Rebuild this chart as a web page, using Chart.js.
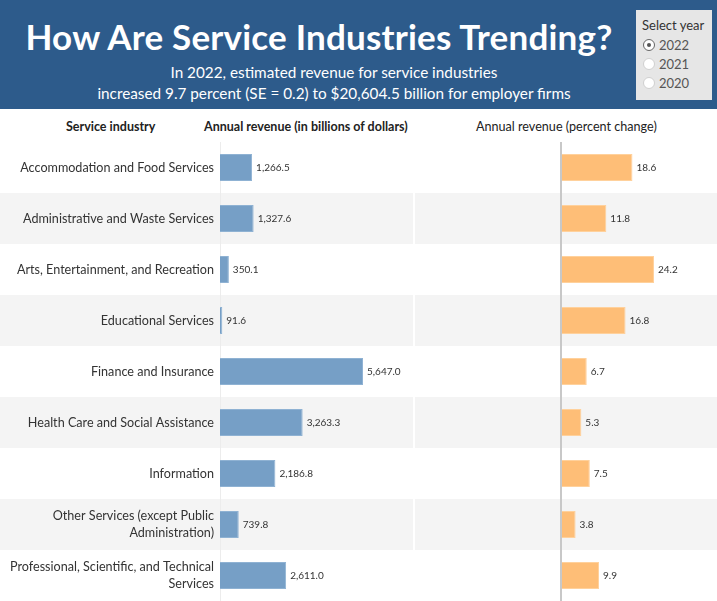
<!DOCTYPE html>
<html>
<head>
<meta charset="utf-8">
<script src="https://cdn.jsdelivr.net/npm/chart.js@4"></script>
<style>
  body { margin: 0; width: 717px; height: 601px; overflow: hidden; background: #fff; font-family: Lato, "Open Sans", sans-serif; position: relative; }
  #header { position: absolute; left: 0; top: 0; width: 717px; height: 109px; background: #2d5b8b; color: #fff; }
  #title { position: absolute; left: 0; width: 638px; top: 15px; text-align: center; font-weight: bold; font-size: 35px; letter-spacing: 0.2px; }
  #subtitle { position: absolute; left: 0; width: 668px; top: 62px; text-align: center; font-size: 15.3px; line-height: 21px; }
  #picker { position: absolute; left: 636px; top: 10px; width: 76px; height: 90px; background: #e6e6e6; color: #333; font-size: 13px; }
  #picker .lbl { position: absolute; left: 6px; top: 7px; }
  #picker .opt { position: absolute; left: 7px; color: #555; }
  #picker .dot { display: inline-block; width: 10px; height: 10px; border-radius: 50%; background: #fff; border: 1px solid #d0d0d0; vertical-align: -1px; margin-right: 4px; position: relative; }
  #picker .dot.on { border-color: #666; }
  #picker .dot.on::after { content: ""; position: absolute; left: 3px; top: 3px; width: 4px; height: 4px; border-radius: 50%; background: #555; }
  .colhead { position: absolute; top: 119px; font-size: 12.5px; color: #222; white-space: nowrap; }
  #leftWrap { position: absolute; left: 0; top: 142px; width: 413px; height: 459px; }
  #rightWrap { position: absolute; left: 415px; top: 142px; width: 302px; height: 459px; }
</style>
</head>
<body>
<div id="header">
  <div id="title">How Are Service Industries Trending?</div>
  <div id="subtitle">In 2022, estimated revenue for service industries<br>increased 9.7 percent (SE = 0.2) to $20,604.5 billion for employer firms</div>
  <div id="picker">
    <div class="lbl">Select year</div>
    <div class="opt" style="top:27px"><span class="dot on"></span>2022</div>
    <div class="opt" style="top:46px"><span class="dot"></span>2021</div>
    <div class="opt" style="top:65px"><span class="dot"></span>2020</div>
  </div>
</div>
<div class="colhead" style="left:66px;font-weight:bold">Service industry</div>
<div class="colhead" style="left:204px;font-weight:bold">Annual revenue (in billions of dollars)</div>
<div class="colhead" style="left:476px;font-size:12.6px">Annual revenue (percent change)</div>
<div id="leftWrap"><canvas id="revChart"></canvas></div>
<div id="rightWrap"><canvas id="pctChart"></canvas></div>
<script>
var industries = [
  "Accommodation and Food Services",
  "Administrative and Waste Services",
  "Arts, Entertainment, and Recreation",
  "Educational Services",
  "Finance and Insurance",
  "Health Care and Social Assistance",
  "Information",
  ["Other Services (except Public", "Administration)"],
  ["Professional, Scientific, and Technical", "Services"]
];
var revenue = [1266.5, 1327.6, 350.1, 91.6, 5647.0, 3263.3, 2186.8, 739.8, 2611.0];
var pctChange = [18.6, 11.8, 24.2, 16.8, 6.7, 5.3, 7.5, 3.8, 9.9];

function fmt(v) {
  return v.toLocaleString("en-US", { minimumFractionDigits: 1, maximumFractionDigits: 1 });
}

// alternating row bands
var rowBands = {
  id: "rowBands",
  beforeDraw: function(chart) {
    var ctx = chart.ctx, y = chart.scales.y;
    var step = chart.chartArea.height / industries.length;
    ctx.save();
    ctx.fillStyle = "#f4f4f4";
    for (var i = 1; i < industries.length; i += 2) {
      var c = y.getPixelForValue(i);
      ctx.fillRect(0, c - step / 2, chart.width, step);
    }
    ctx.restore();
  }
};
// numbers at the end of each bar
var valueLabels = {
  id: "valueLabels",
  afterDatasetsDraw: function(chart) {
    var ctx = chart.ctx;
    var meta = chart.getDatasetMeta(0);
    ctx.save();
    ctx.font = "10px Lato, sans-serif";
    ctx.fillStyle = "#333";
    ctx.textBaseline = "middle";
    meta.data.forEach(function(bar, i) {
      ctx.fillText(fmt(chart.data.datasets[0].data[i]), bar.x + 4, bar.y);
    });
    ctx.restore();
  }
};
var zeroLine = {
  id: "zeroLine",
  afterDatasetsDraw: function(chart) {
    var ctx = chart.ctx, x = chart.scales.x.getPixelForValue(0);
    ctx.save();
    ctx.strokeStyle = "#c8c8c8";
    ctx.lineWidth = 2;
    ctx.beginPath();
    ctx.moveTo(x, 0);
    ctx.lineTo(x, chart.height);
    ctx.stroke();
    ctx.restore();
  }
};

var revChart = new Chart(document.getElementById("revChart"), {
  type: "bar",
  data: {
    labels: industries,
    datasets: [{
      data: revenue,
      backgroundColor: "#769fc6",
      borderColor: "#8fb2d3",
      borderWidth: 1,
      barPercentage: 0.53,
      categoryPercentage: 1
    }]
  },
  options: {
    indexAxis: "y",
    responsive: true,
    maintainAspectRatio: false,
    animation: false,
    layout: { padding: 0 },
    plugins: { legend: { display: false }, tooltip: { enabled: false } },
    scales: {
      x: { display: false, min: 0, max: 7620 },
      y: {
        grid: { display: false, drawTicks: false },
        border: { display: true, color: "#ececec" },
        ticks: { color: "#333", font: { family: "Lato", size: 12.6, lineHeight: 1.35 }, padding: 6 },
        afterFit: function(scale) {
          scale.width = 220;
          scale.paddingTop = 0;
          scale.paddingBottom = 0;
        }
      }
    }
  },
  plugins: [rowBands, valueLabels]
});

var pctChart = new Chart(document.getElementById("pctChart"), {
  type: "bar",
  data: {
    labels: industries,
    datasets: [{
      data: pctChange,
      backgroundColor: "#febe77",
      borderColor: "#ffd19c",
      borderWidth: 1,
      barPercentage: 0.53,
      categoryPercentage: 1
    }]
  },
  options: {
    indexAxis: "y",
    responsive: true,
    maintainAspectRatio: false,
    animation: false,
    layout: { padding: 0 },
    plugins: { legend: { display: false }, tooltip: { enabled: false } },
    scales: {
      x: { display: false, min: -38, max: 40.6 },
      y: { display: false }
    }
  },
  plugins: [rowBands, valueLabels, zeroLine]
});
</script>
</body>
</html>
